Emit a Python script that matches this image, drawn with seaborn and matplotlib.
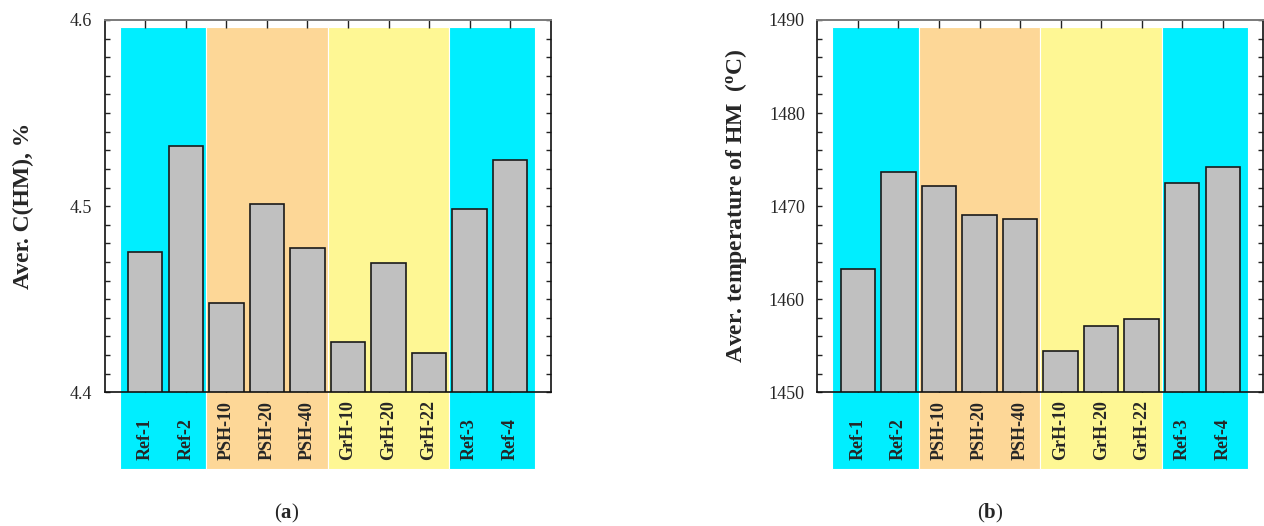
import matplotlib
matplotlib.use("Agg")
import numpy as np
import pandas as pd
import matplotlib.pyplot as plt
import matplotlib.transforms as mtransforms
from matplotlib.patches import Rectangle
from matplotlib.ticker import MultipleLocator, FormatStrFormatter
import seaborn as sns

# ---------------- data ----------------
categories = ["Ref-1", "Ref-2", "PSH-10", "PSH-20", "PSH-40",
              "GrH-10", "GrH-20", "GrH-22", "Ref-3", "Ref-4"]
groups = ["Ref", "Ref", "PSH", "PSH", "PSH", "GrH", "GrH", "GrH", "Ref", "Ref"]
carbon = [4.4755, 4.5323, 4.4479, 4.5013, 4.4773,
          4.4268, 4.4697, 4.4209, 4.4986, 4.5247]
temperature = [1463.25, 1473.7, 1472.2, 1469.1, 1468.6,
               1454.4, 1457.1, 1457.9, 1472.5, 1474.2]
group_colors = {"Ref": "#00EEFF", "PSH": "#FDD797", "GrH": "#FEF794"}

sns.set_style("white")
plt.rcParams.update({
    "font.family": ["Liberation Serif", "DejaVu Serif"],
    "mathtext.fontset": "custom",
    "mathtext.rm": "Liberation Serif",
    "mathtext.bf": "Liberation Serif:bold",
    "mathtext.it": "Liberation Serif:italic",
})

fig = plt.figure(figsize=(12.64, 5.26), dpi=100)
ax1 = fig.add_axes([0.0828, 0.2542, 0.3529, 0.7078])
ax2 = fig.add_axes([0.6466, 0.2542, 0.3529, 0.7078])


def draw(ax, values, ylim, major, minor, ylabel):
    n = len(categories)
    df = pd.DataFrame({"cat": categories, "val": values})
    trans = mtransforms.blended_transform_factory(ax.transData, ax.transAxes)
    # group runs -> background bands
    runs = []
    start = 0
    for i in range(1, n + 1):
        if i == n or groups[i] != groups[start]:
            runs.append((groups[start], start, i - 1))
            start = i
    for g, s, e in runs:
        left = s - 0.5 if s > 0 else -0.63
        right = e + 0.5 if e < n - 1 else n - 1 + 0.62
        ax.add_patch(Rectangle((left, -0.205), right - left, 0.98 + 0.205,
                               transform=trans, facecolor=group_colors[g],
                               edgecolor="white", linewidth=0.8,
                               clip_on=False, zorder=0.5))
    sns.barplot(data=df, x="cat", y="val", ax=ax, color="#C0C0C0",
                saturation=1, width=0.85, edgecolor="#1a1a1a",
                linewidth=1.2, zorder=2)
    ax.set_xlim(-1, n)
    ax.set_ylim(*ylim)
    ax.yaxis.set_major_locator(MultipleLocator(major))
    ax.yaxis.set_minor_locator(MultipleLocator(minor))
    ax.tick_params(axis="y", which="both", direction="in", left=True,
                   right=True, length=3.6, width=1, labelsize=13, pad=9,
                   color="#222222")
    ax.tick_params(axis="x", which="major", direction="in", top=True,
                   bottom=True, length=6, width=1, pad=49, color="#222222")
    ax.set_xticks(range(n))
    ax.set_xticklabels(categories, rotation=90, rotation_mode="anchor",
                       ha="left", va="center", fontweight="bold", fontsize=13)
    ax.set_xlabel("")
    ax.set_ylabel(ylabel, fontsize=17, fontweight="bold", va="center")
    ax.yaxis.set_label_coords(-0.183, 0.5)
    for side in ["left", "bottom", "right"]:
        ax.spines[side].set_color("#111111")
        ax.spines[side].set_linewidth(1.2)
    ax.spines["top"].set_color("#7a7a7a")
    ax.spines["top"].set_linewidth(1.4)
    for sp in ax.spines.values():
        sp.set_visible(True)


draw(ax1, carbon, (4.4, 4.6), 0.1, 0.01, "Aver. C(HM), %")
ax1.yaxis.set_major_formatter(FormatStrFormatter("%.1f"))
draw(ax2, temperature, (1450, 1490), 10, 2,
     r"Aver. temperature of HM  ($^{\mathbf{o}}$C)")

fig.text(287 / 1264, 1 - 513 / 526, r"($\mathbf{a}$)", ha="center",
         va="center", fontsize=15)
fig.text(990 / 1264, 1 - 513 / 526, r"($\mathbf{b}$)", ha="center",
         va="center", fontsize=15)

fig.savefig("out.png", dpi=100)
